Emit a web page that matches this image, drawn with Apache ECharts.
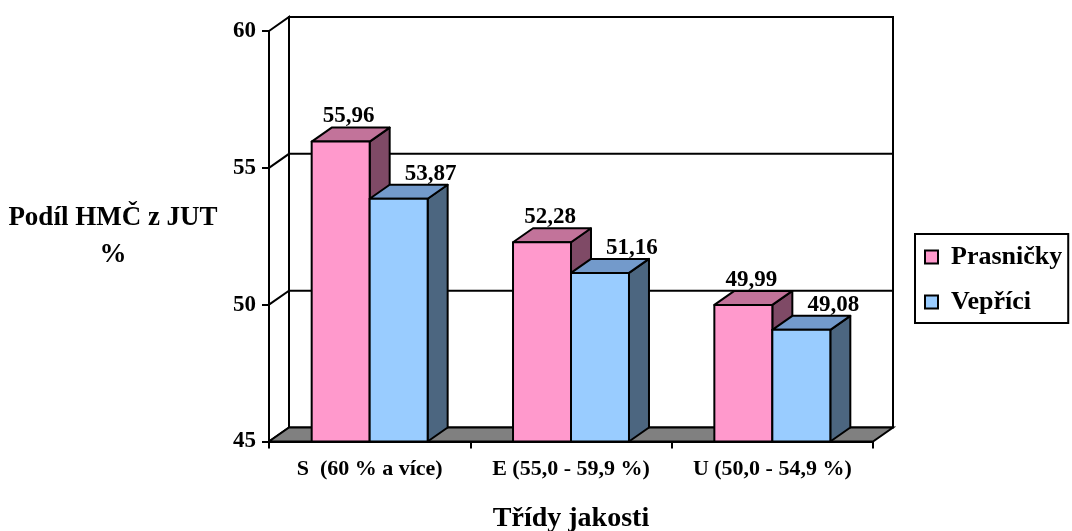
<!DOCTYPE html>
<html>
<head>
<meta charset="utf-8">
<script src="https://cdn.jsdelivr.net/npm/echarts@6/dist/echarts.min.js"></script>
<style>
  html, body { margin: 0; padding: 0; background: #fff; }
  #chart { width: 1072px; height: 531px; }
</style>
</head>
<body>
<div id="chart"></div>
<script>
// Quality classes (category axis)
const categories = ['S  (60 % a více)', 'E (55,0 - 59,9 %)', 'U (50,0 - 54,9 %)'];
// Lean meat share per class, %
const prasnicky = [55.96, 52.28, 49.99];
const veprici = [53.87, 51.16, 49.08];
// Value axis range and step
const yMin = 45;
const yMax = 60;
const yStep = 5;

const FONT = 'Liberation Serif';
// Depth offset of the pseudo-3D box (pixels)
const DX = 20;
const DY = -14;
const BAR_RATIO = 0.288;
const LW = 2;

const fmt = v => v.toFixed(2).replace('.', ',');

function makeBarRenderer(side, colors, labelShift) {
  return function (params, api) {
    const cat = api.value(0);
    const val = api.value(1);
    const top = api.coord([cat, val]);
    const base = api.coord([cat, yMin]);
    const w = api.size([1, 0])[0] * BAR_RATIO;
    const x0 = side === 0 ? top[0] - w : top[0];
    const x1 = x0 + w;
    const yT = top[1];
    const yB = base[1];
    const edge = { stroke: '#000', lineWidth: LW, lineJoin: 'round' };
    return {
      type: 'group',
      children: [
        { type: 'polygon', shape: { points: [[x1, yT], [x1 + DX, yT + DY], [x1 + DX, yB + DY], [x1, yB]] },
          style: Object.assign({ fill: colors.side }, edge) },
        { type: 'polygon', shape: { points: [[x0, yT], [x1, yT], [x1 + DX, yT + DY], [x0 + DX, yT + DY]] },
          style: Object.assign({ fill: colors.top }, edge) },
        { type: 'rect', shape: { x: x0, y: yT, width: w, height: yB - yT },
          style: Object.assign({ fill: colors.front }, edge) },
        { type: 'text', x: (x0 + x1) / 2 + labelShift, y: yT + DY - 11,
          style: { text: fmt(val), fontFamily: FONT, fontWeight: 'bold', fontSize: 23,
                   fill: '#000', align: 'center', verticalAlign: 'middle' } }
      ]
    };
  };
}

// Back wall, left wall, gridlines and floor of the box
function renderWalls(params, api) {
  const cs = params.coordSys;
  const L = cs.x, R = cs.x + cs.width, T = cs.y, B = cs.y + cs.height;
  const edge = { stroke: '#000', lineWidth: LW };
  const children = [
    { type: 'rect', shape: { x: L + DX, y: T + DY, width: R - L, height: B - T },
      style: Object.assign({ fill: '#fff' }, edge) },
    { type: 'polygon', shape: { points: [[L, T], [L + DX, T + DY], [L + DX, B + DY], [L, B]] },
      style: Object.assign({ fill: '#fff' }, edge) }
  ];
  for (let v = yMin + yStep; v < yMax; v += yStep) {
    const y = api.coord([0, v])[1];
    children.push({ type: 'polyline',
      shape: { points: [[L, y], [L + DX, y + DY], [R + DX, y + DY]] },
      style: Object.assign({ fill: null }, edge) });
  }
  children.push({ type: 'polygon',
    shape: { points: [[L, B], [R, B], [R + DX, B + DY], [L + DX, B + DY]] },
    style: Object.assign({ fill: '#808080' }, edge) });
  return { type: 'group', children };
}

const chart = echarts.init(document.getElementById('chart'), null, { renderer: 'canvas' });

const pinkColors = { front: '#FF99CC', top: '#C2739A', side: '#7F4A66' };
const blueColors = { front: '#99CCFF', top: '#739ACB', side: '#4C6680' };

chart.setOption({
  animation: false,
  textStyle: { fontFamily: FONT },
  grid: { left: 269, right: 199, top: 31, bottom: 89.5, containLabel: false, outerBoundsMode: 'none' },
  legend: {
    orient: 'vertical', left: 915, top: 234,
    icon: 'rect', itemWidth: 13, itemHeight: 13, itemGap: 19,
    padding: [10, 6, 8, 9],
    borderColor: '#000', borderWidth: LW,
    itemStyle: { borderColor: '#000', borderWidth: LW },
    textStyle: { fontFamily: FONT, fontWeight: 'bold', fontSize: 26, color: '#000',
                 padding: [0, 0, 0, 8] },
    data: ['Prasničky', 'Vepříci']
  },
  xAxis: {
    type: 'category', data: categories, boundaryGap: true,
    name: 'Třídy jakosti', nameLocation: 'middle', nameGap: 63,
    nameTextStyle: { fontFamily: FONT, fontWeight: 'bold', fontSize: 28, color: '#000' },
    axisLine: { show: true, lineStyle: { color: '#000', width: LW } },
    axisTick: { show: true, length: 7, lineStyle: { color: '#000', width: LW } },
    axisLabel: { interval: 0, margin: 17, fontFamily: FONT, fontWeight: 'bold', fontSize: 22, color: '#000' },
    splitLine: { show: false }
  },
  yAxis: {
    type: 'value', min: yMin, max: yMax, interval: yStep,
    name: 'Podíl HMČ z JUT\n%', nameLocation: 'middle', nameRotate: 0, nameGap: 156,
    nameTextStyle: { fontFamily: FONT, fontWeight: 'bold', fontSize: 27, color: '#000',
                     lineHeight: 37, align: 'center' },
    axisLine: { show: true, lineStyle: { color: '#000', width: LW } },
    axisTick: { show: true, length: 7, lineStyle: { color: '#000', width: LW } },
    axisLabel: { margin: 13, fontFamily: FONT, fontWeight: 'bold', fontSize: 23, color: '#000' },
    splitLine: { show: false }
  },
  series: [
    { type: 'custom', name: 'walls', z: 1, silent: true, renderItem: renderWalls,
      data: [[0, yMin]], encode: { x: 0, y: 1 } },
    { type: 'custom', name: 'Prasničky', z: 3,
      itemStyle: { color: pinkColors.front, borderColor: '#000', borderWidth: LW },
      renderItem: makeBarRenderer(0, pinkColors, 8),
      data: prasnicky.map((v, i) => [i, v]), encode: { x: 0, y: 1 } },
    { type: 'custom', name: 'Vepříci', z: 4,
      itemStyle: { color: blueColors.front, borderColor: '#000', borderWidth: LW },
      renderItem: makeBarRenderer(1, blueColors, 32),
      data: veprici.map((v, i) => [i, v]), encode: { x: 0, y: 1 } }
  ]
});
</script>
</body>
</html>
